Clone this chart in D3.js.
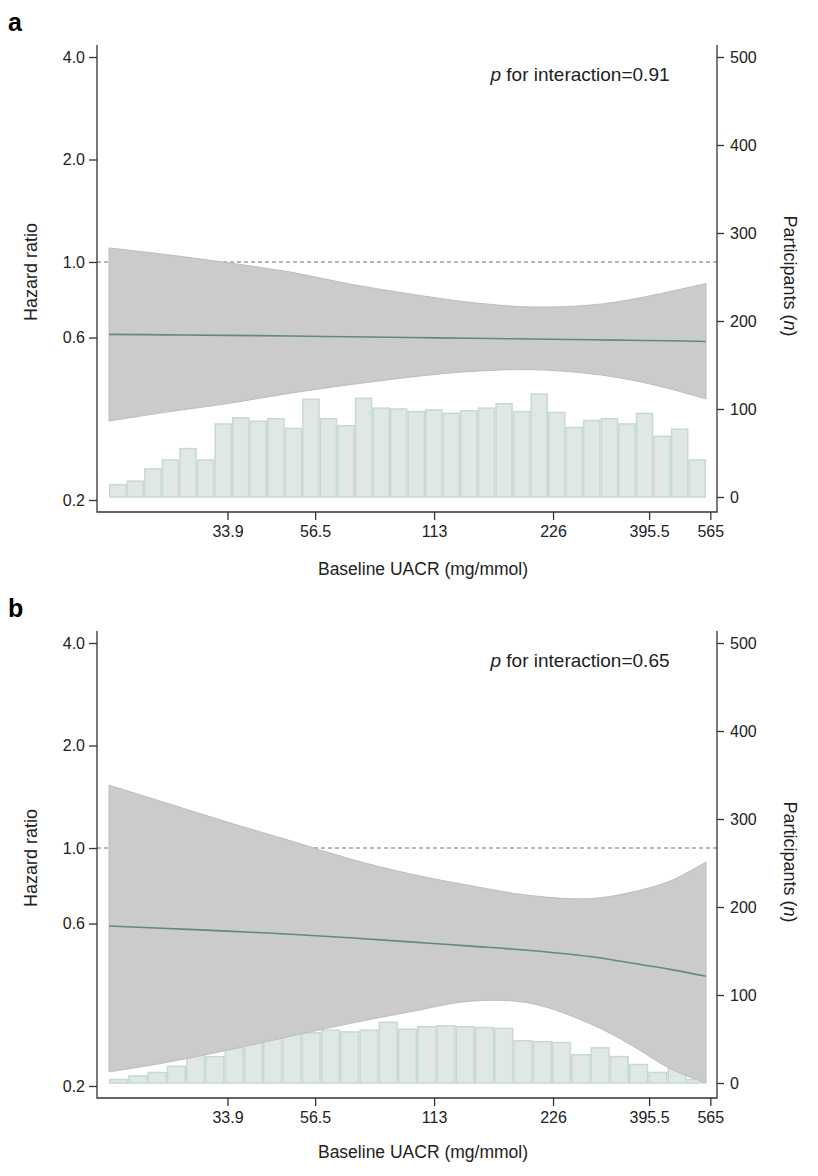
<!DOCTYPE html>
<html lang="en">
<head>
  <meta charset="UTF-8">
  <title>Hazard ratio by baseline UACR</title>
  <style>
    body { margin: 0; background: #fff; }
    svg text { font-family: "Liberation Sans", Arial, sans-serif; fill: #222; }
  </style>
</head>
<body>
  <svg id="svg" width="818" height="1176"></svg>
  <script src="https://d3js.org/d3.v7.min.js"></script>
  <script>
    // tick labels
    const hrTicks = [0.2, 0.6, 1.0, 2.0, 4.0]
    const nTicks = [0, 100, 200, 300, 400, 500]
    const uacrTicks = [33.9, 56.5, 113, 226, 395.5, 565]

    const uacrGrid = [17, 24, 34, 49, 69, 98, 140, 198, 280, 354, 447, 551]

    // panel a
    const hrA = [0.613, 0.611, 0.609, 0.606, 0.603, 0.600, 0.597, 0.594, 0.591, 0.589, 0.587, 0.584]
    const lowerA = [0.341, 0.363, 0.384, 0.412, 0.436, 0.459, 0.477, 0.483, 0.470, 0.451, 0.424, 0.396]
    const upperA = [1.10, 1.05, 0.995, 0.934, 0.862, 0.806, 0.761, 0.738, 0.747, 0.775, 0.819, 0.865]
    const countsA = [14, 18, 32, 42, 55, 42, 83, 90, 86, 89, 78, 111, 89, 81, 112, 101, 100,
      97, 99, 95, 98, 101, 106, 97, 117, 96, 79, 87, 89, 83, 95, 69, 77, 42]

    // panel b
    const hrB = [0.59, 0.58, 0.57, 0.558, 0.545, 0.53, 0.515, 0.50, 0.48, 0.46, 0.44, 0.42]
    const lowerB = [0.22, 0.235, 0.255, 0.28, 0.305, 0.33, 0.355, 0.35, 0.305, 0.265, 0.225, 0.204]
    const upperB = [1.53, 1.35, 1.19, 1.05, 0.93, 0.84, 0.775, 0.725, 0.71, 0.74, 0.80, 0.91]
    const countsB = [4, 8, 12, 19, 39, 30, 40, 50, 55, 61, 57, 60, 58, 60, 69, 61, 64, 65,
      64, 63, 62, 48, 47, 46, 32, 40, 30, 21, 12, 17, 4]

    const panels = [
      { letter: 'a', p: '0.91', hr: hrA, lo: lowerA, hi: upperA, counts: countsA, top: 0, title: 63 },
      { letter: 'b', p: '0.65', hr: hrB, lo: lowerB, hi: upperB, counts: countsB, top: 586, title: 60 }
    ]

    const axL = 97, axR = 717, axTop = 45, axBot = 512

    const x = d3.scaleLog().domain([17, 551]).range([109, 706])
    const y = d3.scaleLog().domain([0.2, 4]).range([500, 57])
    const yn = d3.scaleLinear().domain([0, 500]).range([497, 57])

    const curve = d3.curveCatmullRom.alpha(0.5)
    const svg = d3.select('#svg')

    panels.forEach(pn => {
      const g = svg.append('g').attr('transform', `translate(0,${pn.top})`)
      const pts = uacrGrid.map((u, i) => ({ u, hr: pn.hr[i], lo: pn.lo[i], hi: pn.hi[i] }))

      g.append('text').attr('x', 8).attr('y', 31)
        .style('font-size', '25px').style('font-weight', 'bold').style('fill', '#000')
        .text(pn.letter)

      // histogram of participants
      const band = d3.scaleBand().domain(d3.range(pn.counts.length)).range([x(17), x(551)])
      g.selectAll('rect.bin').data(pn.counts).enter().append('rect')
        .attr('class', 'bin')
        .attr('x', (d, i) => band(i) + 0.75)
        .attr('width', band.bandwidth() - 1.5)
        .attr('y', d => yn(d))
        .attr('height', d => yn(0) - yn(d))
        .attr('fill', '#dfe8e6')
        .attr('stroke', '#c6d9d3')
        .attr('stroke-width', 1.5)

      // reference line at HR = 1
      g.append('line')
        .attr('x1', axL).attr('x2', axR)
        .attr('y1', y(1)).attr('y2', y(1))
        .attr('stroke', '#707070').attr('stroke-width', 1.2)
        .attr('stroke-dasharray', '4,3')

      // confidence band
      g.append('path').datum(pts)
        .attr('d', d3.area().x(d => x(d.u)).y0(d => y(d.lo)).y1(d => y(d.hi)).curve(curve))
        .attr('fill', '#cbcbcb').attr('stroke', '#bdbdbd').attr('stroke-width', 1)

      g.append('path').datum(pts)
        .attr('d', d3.line().x(d => x(d.u)).y(d => y(d.hr)).curve(curve))
        .attr('fill', 'none').attr('stroke', '#5e8b7e').attr('stroke-width', 1.6)

      // axes lines
      g.append('path')
        .attr('d', `M${axL},${axTop}V${axBot}H${axR}V${axTop}`)
        .attr('fill', 'none').attr('stroke', '#333').attr('stroke-width', 1.3)

      const left = g.append('g').attr('transform', `translate(${axL},0)`)
        .call(d3.axisLeft(y).tickValues(hrTicks).tickFormat(d3.format('.1f')).tickSize(8).tickPadding(4))
      const right = g.append('g').attr('transform', `translate(${axR},0)`)
        .call(d3.axisRight(yn).tickValues(nTicks).tickSize(7).tickPadding(6))
      const bottom = g.append('g').attr('transform', `translate(0,${axBot})`)
        .call(d3.axisBottom(x).tickValues(uacrTicks).tickFormat(d => String(d)).tickSize(8).tickPadding(6))

      ;[left, right, bottom].forEach(a => {
        a.select('.domain').remove()
        a.selectAll('line').attr('stroke', '#333').attr('stroke-width', 1.3)
        a.selectAll('text').style('font-size', '16px').style('fill', '#222')
      })

      g.append('text')
        .attr('transform', 'translate(37,272) rotate(-90)')
        .attr('text-anchor', 'middle').style('font-size', '18px')
        .text('Hazard ratio')

      const rt = g.append('text')
        .attr('transform', 'translate(784,276) rotate(90)')
        .attr('text-anchor', 'middle').style('font-size', '18px')
      rt.append('tspan').text('Participants (')
      rt.append('tspan').style('font-style', 'italic').text('n')
      rt.append('tspan').text(')')

      g.append('text').attr('x', (axL + axR) / 2 + 16).attr('y', axBot + pn.title)
        .attr('text-anchor', 'middle').style('font-size', '17.5px')
        .text('Baseline UACR (mg/mmol)')

      const pt = g.append('text').attr('x', 580).attr('y', 81)
        .attr('text-anchor', 'middle').style('font-size', '19px')
      pt.append('tspan').style('font-style', 'italic').text('p')
      pt.append('tspan').text(' for interaction=' + pn.p)
    })
  </script>
</body>
</html>
